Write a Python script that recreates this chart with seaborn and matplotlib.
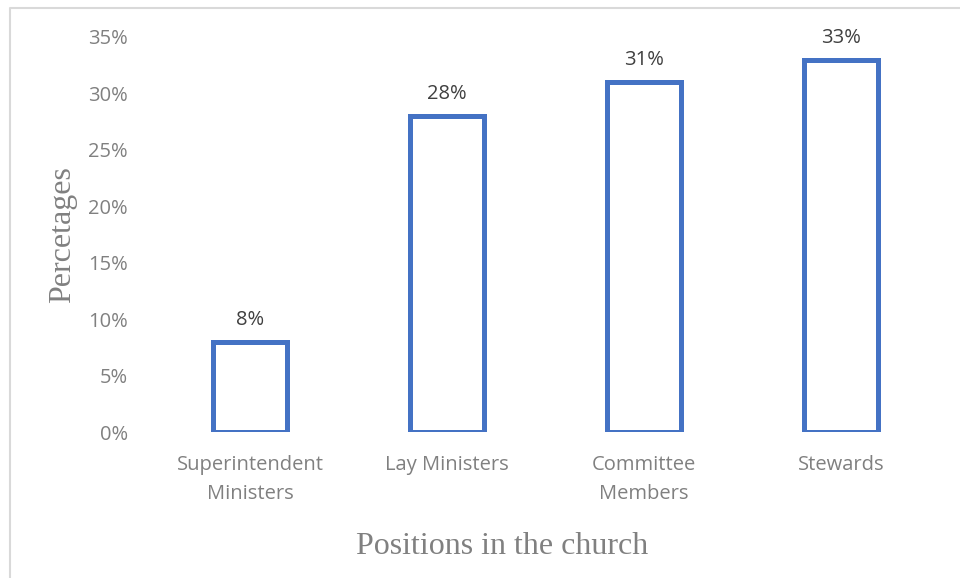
import matplotlib
matplotlib.use("Agg")
import matplotlib.pyplot as plt
from matplotlib.lines import Line2D
import seaborn as sns

# Share of respondents by church position
categories = ["Superintendent\nMinisters", "Lay Ministers", "Committee\nMembers", "Stewards"]
values = [0.08, 0.28, 0.31, 0.33]
y_ticks = [0.00, 0.05, 0.10, 0.15, 0.20, 0.25, 0.30, 0.35]
y_tick_labels = ["0%", "5%", "10%", "15%", "20%", "25%", "30%", "35%"]

sns.set_theme(style="white")
plt.rcParams["font.family"] = ["Open Sans", "DejaVu Sans"]

W, H = 960, 578
fig = plt.figure(figsize=(W / 100, H / 100), dpi=100)
fig.patch.set_facecolor("white")

left, right, top, bottom = 151.5, 939.5, 37.0, 432.0
ax = fig.add_axes([left / W, 1 - bottom / H, (right - left) / W, (bottom - top) / H])

blue = "#4472C4"
sns.barplot(x=categories, y=values, ax=ax, color="white", edgecolor=blue,
            linewidth=3.6, width=0.38, saturation=1)
for p in ax.patches:
    p.set_facecolor("white")
    p.set_joinstyle("miter")

ax.set_xlim(-0.5, len(categories) - 0.5)
ax.set_ylim(0, 0.35)
ax.set_yticks(y_ticks)
ax.set_yticklabels(y_tick_labels)
ax.tick_params(axis="both", length=0, labelsize=14.5, labelcolor="#808080")
ax.tick_params(axis="y", pad=17)
ax.tick_params(axis="x", pad=16.5)
for lbl in ax.get_xticklabels():
    lbl.set_linespacing(1.62)
for s in ax.spines.values():
    s.set_visible(False)
ax.grid(False)
ax.set_xlabel("")
ax.set_ylabel("")

# value labels above each bar
for i, v in enumerate(values):
    ax.annotate(f"{round(v * 100)}%", xy=(i, v), xytext=(0, 12.2),
                textcoords="offset points", ha="center", va="baseline",
                fontsize=14.5, color="#404040")

serif = ["Liberation Serif", "DejaVu Serif"]
fig.text(63 / W, 1 - 234.5 / H, "Percetages", rotation=90, ha="center", va="center",
         fontsize=23, color="#808080", family=serif)
fig.text(502.5 / W, 1 - 546 / H, "Positions in the church", ha="center", va="center",
         fontsize=23, color="#808080", family=serif)

# chart frame (top and left edges)
fig.add_artist(Line2D([9.5 / W, 9.5 / W, 1.0], [0.0, 1 - 7.5 / H, 1 - 7.5 / H],
                      transform=fig.transFigure, color="#d9d9d9", linewidth=1.5))

fig.savefig("out.png", dpi=100, facecolor="white")
